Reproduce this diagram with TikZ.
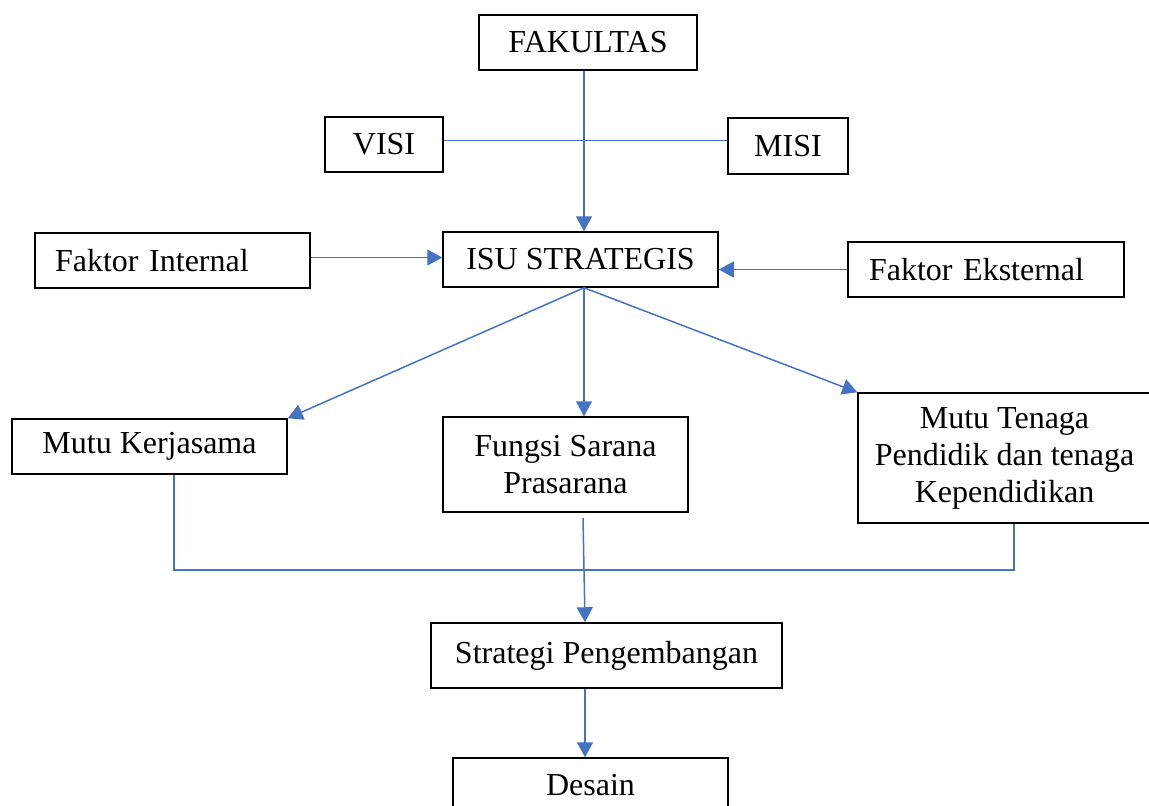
\documentclass[tikz,border=0pt]{standalone}
\usepackage{fontspec}
\setmainfont{Liberation Serif}
\usetikzlibrary{arrows.meta}
\tikzset{>={Triangle[width=8pt,length=7.5pt]}}
\definecolor{lineblue}{HTML}{4472C4}
\tikzset{
  box/.style={draw, line width=0.75pt, fill=white, inner sep=0pt, align=center},
  conn/.style={draw=lineblue, line width=0.75pt},
  arr/.style={conn, ->},
}

\begin{document}
\begin{tikzpicture}[x=0.5pt, y=-0.5pt]

\fontsize{16}{18.5}\selectfont
\useasboundingbox (0,0) rectangle (1149,805); %% page size

%% top
\node[box, minimum width=109pt, minimum height=27.5pt] (fak) at (588,42.5) {FAKULTAS};
\node[box, minimum width=59pt, minimum height=27.5pt] (visi) at (384,144.5) {VISI};
\node[box, minimum width=60pt, minimum height=28pt] (misi) at (788,146) {MISI};

%% middle row
\node[box, minimum width=137.5pt, minimum height=27.5pt] (isu) at (580.5,259.5) {ISU STRATEGIS};
\node[box, align=left, inner xsep=10pt, text width=117.5pt, minimum height=27.5pt]
  (fint) at (172.5,260.5) {Faktor Internal};
\node[box, align=left, inner xsep=10.5pt, text width=117pt, minimum height=27.5pt]
  (fext) at (986,269.5) {Faktor Eksternal};

%% issues
\node[box, minimum width=137.5pt, minimum height=27.5pt] (mkj) at (149.5,446.5) {Mutu Kerjasama};
\node[box, minimum width=122.5pt, minimum height=47.5pt] (fsp) at (565.5,464.5)
  {Fungsi Sarana\\Prasarana};
\node[box, minimum width=146.5pt, minimum height=65pt] (mtg) at (1004.5,458)
  {Mutu Tenaga\\Pendidik dan tenaga\\Kependidikan};

%% bottom
\node[box, minimum width=175.5pt, minimum height=32.5pt] (spg) at (606.5,655.5) {Strategi Pengembangan};
\node[box, minimum width=137.5pt, minimum height=27.5pt] (des) at (590.5,785.5) {Desain};

%% connectors
\draw[conn] ([yshift=2pt]visi.east) -- ([yshift=2pt]visi.east -| misi.west);
\draw[arr] ([xshift=-2pt]fak.south) -- ([xshift=-2pt]fak.south |- isu.north);
\draw[arr] ([yshift=1.5pt]fint.east) -- ([yshift=1.5pt]fint.east -| isu.west);
\draw[arr] (fext.west) -- (fext.west -| isu.east);

\coordinate (isuout) at ([xshift=1.75pt]isu.south);
\draw[arr] (isuout) -- (mkj.north east);
\draw[arr] (isuout) -- (isuout |- fsp.north);
\draw[arr] (isuout) -- (mtg.north west);

\draw[conn] ([xshift=12.25pt]mkj.south) -- ++(0,95) -| ([xshift=4.75pt]mtg.south);
\draw[arr] ([xshift=8.75pt,yshift=-2.5pt]fsp.south) -- ([xshift=-10.75pt]spg.north);
\draw[arr] ([xshift=-10.75pt]spg.south) -- ([xshift=-10.75pt]spg.south |- des.north);

\end{tikzpicture}
\end{document}
